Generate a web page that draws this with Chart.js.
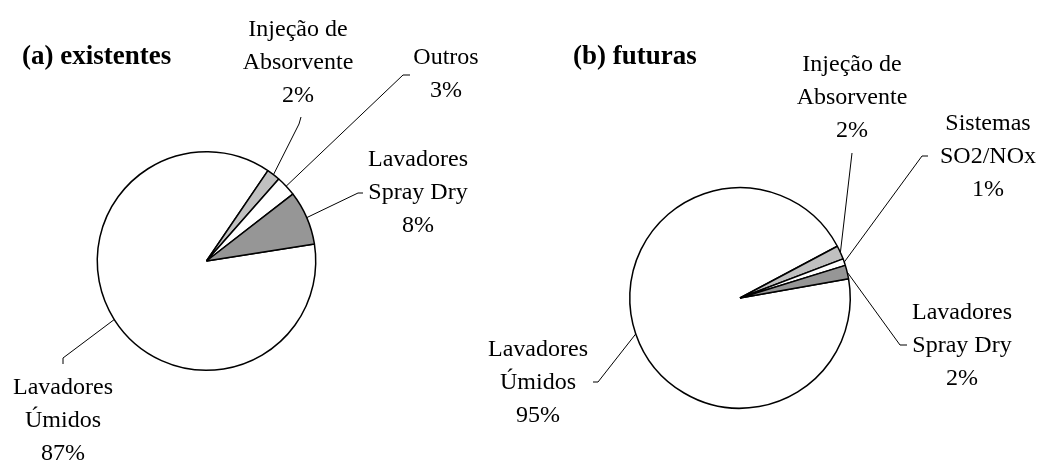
<!DOCTYPE html>
<html>
<head>
<meta charset="utf-8">
<script src="https://cdn.jsdelivr.net/npm/chart.js@4"></script>
<style>
  html, body { margin: 0; padding: 0; background: #fff; }
  #wrap { position: relative; width: 1043px; height: 463px; }
  #wrap canvas { position: absolute; left: 0; top: 0; }
</style>
</head>
<body>
<div id="wrap">
  <canvas id="pieA" width="1043" height="463"></canvas>
  <canvas id="pieB" width="1043" height="463"></canvas>
</div>
<script>
// dados
const labelsA = [['Lavadores', 'Úmidos'], ['Injeção de', 'Absorvente'], ['Outros'], ['Lavadores', 'Spray Dry']];
const valuesA = [87, 2, 3, 8];
const labelsB = [['Lavadores', 'Úmidos'], ['Injeção de', 'Absorvente'], ['Sistemas', 'SO2/NOx'], ['Lavadores', 'Spray Dry']];
const valuesB = [95, 2, 1, 2];
const sliceColors = ['#ffffff', '#c0c0c0', '#ffffff', '#969696'];

// posições dos rótulos (centro do texto, y da primeira linha) e da linha de chamada
const layoutA = [
    { x: 63, y: 388, elbow: [63, 358], end: [63, 364] },
    { x: 298, y: 30, elbow: [299, 124], end: [301, 117] },
    { x: 446, y: 58, elbow: [403, 75], end: [410, 75] },
    { x: 418, y: 160, elbow: [358, 193], end: [363, 193] }
];
const layoutB = [
    { x: 538, y: 350, elbow: [598, 382], end: [593, 382] },
    { x: 852, y: 65, elbow: [852, 153], end: [852, 153] },
    { x: 988, y: 124, elbow: [922, 156], end: [928, 156] },
    { x: 962, y: 313, elbow: [900, 345], end: [907, 345] }
];

const labelPlugin = {
    id: 'pieLabels',
    afterDatasetsDraw(chart, args, opts) {
        const ctx = chart.ctx;
        const meta = chart.getDatasetMeta(0);
        const values = chart.data.datasets[0].data;
        ctx.save();
        // título
        ctx.fillStyle = '#000';
        ctx.font = 'bold 27px "Liberation Serif", "Times New Roman", serif';
        ctx.textAlign = 'left';
        ctx.textBaseline = 'middle';
        ctx.fillText(opts.title, opts.titleX, opts.titleY);

        ctx.font = '24px "Liberation Serif", "Times New Roman", serif';
        ctx.textAlign = 'center';
        meta.data.forEach((arc, i) => {
            const pos = opts.layout[i];
            const mid = (arc.startAngle + arc.endAngle) / 2;
            const px = arc.x + Math.cos(mid) * arc.outerRadius;
            const py = arc.y + Math.sin(mid) * arc.outerRadius;
            ctx.strokeStyle = '#000';
            ctx.lineWidth = 1;
            ctx.beginPath();
            ctx.moveTo(px, py);
            ctx.lineTo(pos.elbow[0], pos.elbow[1]);
            ctx.lineTo(pos.end[0], pos.end[1]);
            ctx.stroke();

            const lines = opts.names[i].concat([values[i] + '%']);
            lines.forEach((t, k) => ctx.fillText(t, pos.x, pos.y + k * 33));
        });
        ctx.restore();
    }
};

function makePie(id, values, names, rotation, padding, layout, title, titleX, titleY) {
    new Chart(document.getElementById(id).getContext('2d'), {
        type: 'pie',
        data: {
            labels: names.map(n => n.join(' ')),
            datasets: [{
                data: values,
                backgroundColor: sliceColors,
                borderColor: '#000',
                borderWidth: 1.5
            }]
        },
        options: {
            responsive: false,
            animation: false,
            rotation: rotation,
            layout: { padding: padding },
            plugins: {
                legend: { display: false },
                tooltip: { enabled: false },
                pieLabels: { layout: layout, names: names, title: title, titleX: titleX, titleY: titleY }
            }
        },
        plugins: [labelPlugin]
    });
}

makePie('pieA', valuesA, labelsA, 81,
    { left: 95, top: 151, right: 1043 - 318, bottom: 463 - 371 },
    layoutA, '(a) existentes', 22, 57);
makePie('pieB', valuesB, labelsB, 80,
    { left: 628, top: 187, right: 1043 - 852, bottom: 463 - 409 },
    layoutB, '(b) futuras', 573, 57);
</script>
</body>
</html>
